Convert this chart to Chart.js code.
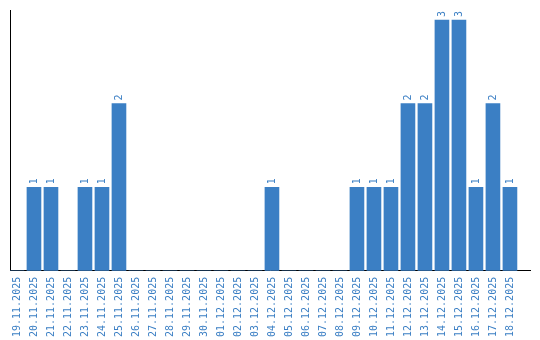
<!DOCTYPE html>
<html lang="de">
	<head>
		<meta charset="utf-8">
		<title>Tage</title>
		<script src="https://cdnjs.cloudflare.com/ajax/libs/Chart.js/4.4.1/chart.umd.min.js"></script>
		<style>
			html, body { margin: 0; padding: 0; background: #fff; }
			#wrap { width: 540px; height: 340px; }
		</style>
	</head>
	<body>
		<div id="wrap"><canvas id="stats"></canvas></div>
		<script>
			const days = [
				"19.11.2025", "20.11.2025", "21.11.2025", "22.11.2025", "23.11.2025",
				"24.11.2025", "25.11.2025", "26.11.2025", "27.11.2025", "28.11.2025",
				"29.11.2025", "30.11.2025", "01.12.2025", "02.12.2025", "03.12.2025",
				"04.12.2025", "05.12.2025", "06.12.2025", "07.12.2025", "08.12.2025",
				"09.12.2025", "10.12.2025", "11.12.2025", "12.12.2025", "13.12.2025",
				"14.12.2025", "15.12.2025", "16.12.2025", "17.12.2025", "18.12.2025"
			]
			const counts = [
				0, 1, 1, 0, 1,
				1, 2, 0, 0, 0,
				0, 0, 0, 0, 0,
				1, 0, 0, 0, 0,
				1, 1, 1, 2, 2,
				3, 3, 1, 2, 1
			]

			const blue = "#3b7fc4"
			const mono = "'DejaVu Sans Mono', monospace"

			// value labels, rotated like the tick labels
			const valueLabels = {
				id: "valueLabels",
				afterDatasetsDraw(chart) {
					const ctx = chart.ctx
					const meta = chart.getDatasetMeta(0)
					ctx.save()
					ctx.fillStyle = blue
					ctx.font = "10px " + mono
					ctx.textAlign = "left"
					ctx.textBaseline = "middle"
					meta.data.forEach((bar, i) => {
						if (!counts[i]) return
						ctx.save()
						ctx.translate(bar.x, bar.y - 3)
						ctx.rotate(-Math.PI / 2)
						ctx.fillText(String(counts[i]), 0, 0)
						ctx.restore()
					})
					ctx.restore()
				}
			}

			new Chart(document.getElementById("stats"), {
				type: "bar",
				data: {
					labels: days,
					datasets: [{
						data: counts,
						backgroundColor: blue,
						barThickness: 14
					}]
				},
				options: {
					responsive: true,
					maintainAspectRatio: false,
					animation: false,
					layout: { padding: { top: 10, left: 10, right: 10, bottom: -3 } },
					plugins: { legend: { display: false }, tooltip: { enabled: false } },
					scales: {
						x: {
							// the axis runs on a bit past the last day
							afterBuildTicks: scale => {
								scale._startValue = -0.41
								scale._valueRange = 30.59
							},
							grid: { display: false, drawTicks: false },
							border: { display: true, color: "#000", width: 1 },
							ticks: {
								color: blue,
								font: { family: mono, size: 10 },
								minRotation: 90,
								maxRotation: 90,
								autoSkip: false,
								padding: 6
							}
						},
						y: {
							min: 0,
							max: 3.12,
							grid: { display: false, drawTicks: false },
							border: { display: true, color: "#000", width: 1 },
							ticks: { display: false }
						}
					}
				},
				plugins: [valueLabels]
			})
		</script>
	</body>
</html>
